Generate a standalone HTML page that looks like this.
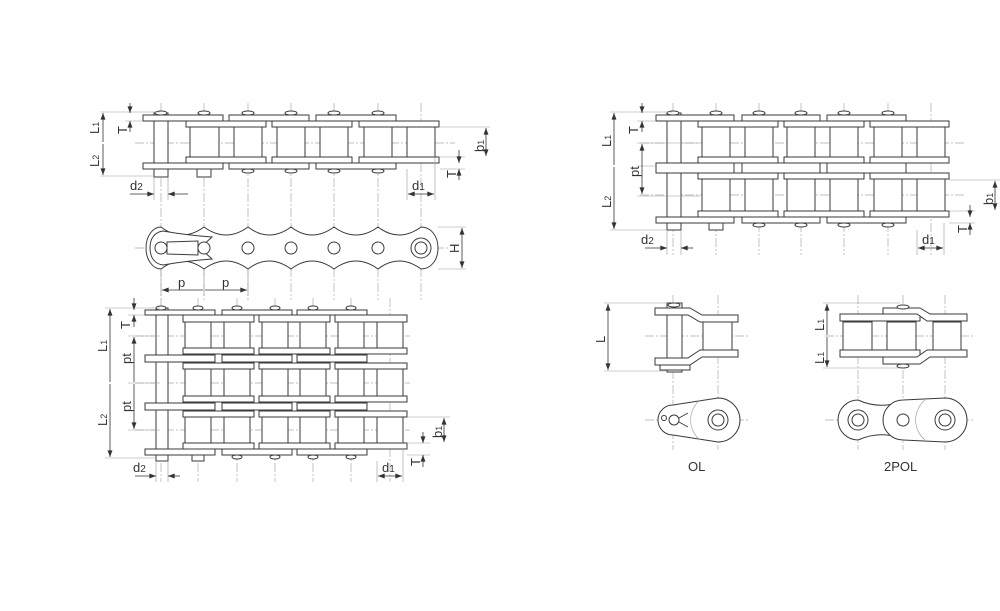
<!DOCTYPE html>
<html><head><meta charset="utf-8"><style>
html,body{margin:0;padding:0;background:#fff;width:1000px;height:611px;overflow:hidden}
svg{display:block}
.o{fill:#fff;stroke:#3a3a3a;stroke-width:1}
.c{stroke:#aaa;stroke-width:0.7;stroke-dasharray:9 2 2 2;fill:none}
.e{stroke:#999;stroke-width:0.6;fill:none}
.d{stroke:#333;stroke-width:0.8;fill:none;marker-start:url(#a);marker-end:url(#a)}
.dl{stroke:#333;stroke-width:0.8;fill:none}
text{font-family:"Liberation Sans",sans-serif;font-size:13px;fill:#333}
</style></head><body>
<svg width="1000" height="611" viewBox="0 0 1000 611" xmlns="http://www.w3.org/2000/svg">
<defs>
<marker id="a" viewBox="0 0 8 6" refX="8" refY="3" markerWidth="7" markerHeight="5" markerUnits="userSpaceOnUse" orient="auto-start-reverse"><path d="M0,0L8,3L0,6z" fill="#333"/></marker>
<marker id="b" viewBox="0 0 8 6" refX="8" refY="3" markerWidth="7" markerHeight="5" markerUnits="userSpaceOnUse" orient="auto"><path d="M0,0L8,3L0,6z" fill="#333"/></marker>
</defs>

<!-- ================= SIMPLEX ================= -->
<g class="c">
<path d="M161,103V300M204,103V300M248,103V300M291,103V300M334,103V300M378,103V300M421,103V300"/>
<path d="M135,143H455M135,248H450"/>
</g>
<g class="o">
<rect x="154" y="113" width="14" height="64"/>
<rect x="197" y="169" width="14" height="8"/>
<rect x="143" y="115" width="80" height="6"/><rect x="229" y="115" width="80" height="6"/><rect x="316" y="115" width="80" height="6"/>
<rect x="186" y="121" width="80" height="6"/><rect x="272" y="121" width="80" height="6"/><rect x="359" y="121" width="80" height="6"/>
<rect x="190" y="127" width="29" height="30"/><rect x="234" y="127" width="28" height="30"/><rect x="277" y="127" width="28" height="30"/><rect x="320" y="127" width="28" height="30"/><rect x="364" y="127" width="28" height="30"/><rect x="407" y="127" width="28" height="30"/>
<rect x="186" y="157" width="80" height="6"/><rect x="272" y="157" width="80" height="6"/><rect x="359" y="157" width="80" height="6"/>
<rect x="143" y="163" width="80" height="6"/><rect x="229" y="163" width="80" height="6"/><rect x="316" y="163" width="80" height="6"/>
<ellipse cx="161" cy="113" rx="6" ry="2"/><ellipse cx="204" cy="113" rx="6" ry="2"/><ellipse cx="248" cy="113" rx="6" ry="2"/><ellipse cx="291" cy="113" rx="6" ry="2"/><ellipse cx="334" cy="113" rx="6" ry="2"/><ellipse cx="378" cy="113" rx="6" ry="2"/>
<ellipse cx="248" cy="171" rx="6" ry="2"/><ellipse cx="291" cy="171" rx="6" ry="2"/><ellipse cx="334" cy="171" rx="6" ry="2"/><ellipse cx="378" cy="171" rx="6" ry="2"/>
</g>
<!-- side view -->
<path class="o" d="M146,248 C146,236 153,227 161,227 Q182,243 204,227 Q226,243 248,227 Q269,243 291,227 Q312,243 334,227 Q356,243 378,227 Q399,243 421,227 C431,227 438,236 438,248 C438,260 431,269 421,269 Q399,253 378,269 Q356,253 334,269 Q312,253 291,269 Q269,253 248,269 Q226,253 204,269 Q182,253 161,269 C153,269 146,260 146,248Z"/>
<path class="o" d="M150,248 C150,238 155,232 163,231 Q185,235 212,237 L200,248 L212,259 Q185,261 163,265 C155,264 150,258 150,248Z"/>
<path class="o" d="M167,242 L198,241 L198,255 L167,254Z"/>
<g class="o">
<circle cx="161" cy="248" r="6"/><circle cx="204" cy="248" r="6"/><circle cx="248" cy="248" r="6"/><circle cx="291" cy="248" r="6"/><circle cx="334" cy="248" r="6"/><circle cx="378" cy="248" r="6"/><circle cx="421" cy="248" r="10"/><circle cx="421" cy="248" r="6"/>
</g>
<!-- simplex dims -->
<g class="e"><path d="M100,112H160M100,176H154M125,121H143M440,127H490M440,157H465M440,169H465M407,169V200M435,157V200M154,177V200M168,177V200M438,227H466M438,269H466M161,270V296M204,270V296M248,270V296"/></g>
<path class="d" d="M103,113V142M103,144V175"/>
<path class="dl" d="M130,103V113" marker-end="url(#b)"/><path class="dl" d="M130,132V121" marker-end="url(#b)"/>
<path class="d" d="M486,128V156"/>
<path class="dl" d="M459,150V163" marker-end="url(#b)"/><path class="dl" d="M459,180V169" marker-end="url(#b)"/>
<path class="d" d="M408,194H434"/>
<path class="dl" d="M130,194H154" marker-end="url(#b)"/><path class="dl" d="M188,194H168" marker-end="url(#b)"/>
<path class="d" d="M462,228V268"/>
<path class="d" d="M162,290H203M205,290H247"/>
<text transform="translate(99,134) rotate(-90)">L<tspan font-size="9">1</tspan></text>
<text transform="translate(99,167) rotate(-90)">L<tspan font-size="9">2</tspan></text>
<text transform="translate(127,134) rotate(-90)">T</text>
<text transform="translate(484,152) rotate(-90)">b<tspan font-size="9">1</tspan></text>
<text transform="translate(456,178) rotate(-90)">T</text>
<text transform="translate(459,253) rotate(-90)">H</text>
<text x="130" y="190">d<tspan font-size="10">2</tspan></text>
<text x="412" y="190">d<tspan font-size="10">1</tspan></text>
<text x="178" y="287">p</text><text x="222" y="287">p</text>

<!-- ================= TRIPLEX ================= -->
<g class="c">
<path d="M161,298V482M198,298V482M237,298V482M275,298V482M313,298V482M351,298V482M390,298V482"/>
<path d="M135,336H410M135,383H410M135,430H410"/>
</g>
<g class="o">
<rect x="156" y="308" width="12" height="153"/>
<rect x="192" y="455" width="12" height="6"/>
<rect x="145" y="310" width="70" height="5"/><rect x="222" y="310" width="70" height="5"/><rect x="297" y="310" width="70" height="5"/>
<rect x="183" y="315" width="71" height="7"/><rect x="259" y="315" width="71" height="7"/><rect x="335" y="315" width="72" height="7"/>
<rect x="185" y="322" width="26" height="26"/><rect x="224" y="322" width="26" height="26"/><rect x="262" y="322" width="26" height="26"/><rect x="300" y="322" width="26" height="26"/><rect x="338" y="322" width="26" height="26"/><rect x="377" y="322" width="26" height="26"/>
<rect x="183" y="348" width="71" height="6"/><rect x="259" y="348" width="71" height="6"/><rect x="335" y="348" width="72" height="6"/>
<rect x="145" y="355" width="70" height="7"/><rect x="222" y="355" width="70" height="7"/><rect x="297" y="355" width="70" height="7"/>
<rect x="183" y="363" width="71" height="6"/><rect x="259" y="363" width="71" height="6"/><rect x="335" y="363" width="72" height="6"/>
<rect x="185" y="369" width="26" height="27"/><rect x="224" y="369" width="26" height="27"/><rect x="262" y="369" width="26" height="27"/><rect x="300" y="369" width="26" height="27"/><rect x="338" y="369" width="26" height="27"/><rect x="377" y="369" width="26" height="27"/>
<rect x="183" y="396" width="71" height="6"/><rect x="259" y="396" width="71" height="6"/><rect x="335" y="396" width="72" height="6"/>
<rect x="145" y="403" width="70" height="7"/><rect x="222" y="403" width="70" height="7"/><rect x="297" y="403" width="70" height="7"/>
<rect x="183" y="411" width="71" height="6"/><rect x="259" y="411" width="71" height="6"/><rect x="335" y="411" width="72" height="6"/>
<rect x="185" y="417" width="26" height="26"/><rect x="224" y="417" width="26" height="26"/><rect x="262" y="417" width="26" height="26"/><rect x="300" y="417" width="26" height="26"/><rect x="338" y="417" width="26" height="26"/><rect x="377" y="417" width="26" height="26"/>
<rect x="183" y="443" width="71" height="6"/><rect x="259" y="443" width="71" height="6"/><rect x="335" y="443" width="72" height="6"/>
<rect x="145" y="449" width="70" height="6"/><rect x="222" y="449" width="70" height="6"/><rect x="297" y="449" width="70" height="6"/>
<ellipse cx="161" cy="308" rx="5" ry="2"/><ellipse cx="198" cy="308" rx="5" ry="2"/><ellipse cx="237" cy="308" rx="5" ry="2"/><ellipse cx="275" cy="308" rx="5" ry="2"/><ellipse cx="313" cy="308" rx="5" ry="2"/><ellipse cx="351" cy="308" rx="5" ry="2"/>
<ellipse cx="237" cy="457" rx="5" ry="2"/><ellipse cx="275" cy="457" rx="5" ry="2"/><ellipse cx="313" cy="457" rx="5" ry="2"/><ellipse cx="351" cy="457" rx="5" ry="2"/>
</g>
<g class="e"><path d="M105,308H160M105,458H156M128,315H145M128,336H160M128,383H160M128,430H160M407,417H450M407,443H430M407,455H430M377,461V482M403,449V482M156,461V482M168,461V482"/></g>
<path class="d" d="M110,309V382M110,384V457"/>
<path class="dl" d="M134,298V310" marker-end="url(#b)"/><path class="dl" d="M134,327V315" marker-end="url(#b)"/>
<path class="d" d="M134,337V382M134,384V429"/>
<path class="d" d="M444,418V442"/>
<path class="dl" d="M423,432V443" marker-end="url(#b)"/><path class="dl" d="M423,467V455" marker-end="url(#b)"/>
<path class="d" d="M378,476H402"/>
<path class="dl" d="M135,476H156" marker-end="url(#b)"/><path class="dl" d="M180,476H168" marker-end="url(#b)"/>
<text transform="translate(107,352) rotate(-90)">L<tspan font-size="9">1</tspan></text>
<text transform="translate(107,426) rotate(-90)">L<tspan font-size="9">2</tspan></text>
<text transform="translate(130,329) rotate(-90)">T</text>
<text transform="translate(131,364) rotate(-90)">pt</text>
<text transform="translate(131,412) rotate(-90)">pt</text>
<text transform="translate(442,438) rotate(-90)">b<tspan font-size="9">1</tspan></text>
<text transform="translate(420,466) rotate(-90)">T</text>
<text x="133" y="472">d<tspan font-size="10">2</tspan></text>
<text x="382" y="472">d<tspan font-size="10">1</tspan></text>

<!-- ================= DUPLEX ================= -->
<g class="c">
<path d="M673,103V255M716,103V255M759,103V255M801,103V255M844,103V255M888,103V255M931,103V255"/>
<path d="M640,143H965M640,195H965"/>
</g>
<g class="o">
<rect x="667" y="113" width="14" height="117"/>
<rect x="709" y="223" width="14" height="7"/>
<rect x="656" y="115" width="78" height="6"/><rect x="742" y="115" width="78" height="6"/><rect x="827" y="115" width="79" height="6"/>
<rect x="698" y="121" width="80" height="6"/><rect x="784" y="121" width="80" height="6"/><rect x="870" y="121" width="79" height="6"/>
<rect x="702" y="127" width="28" height="30"/><rect x="745" y="127" width="28" height="30"/><rect x="787" y="127" width="28" height="30"/><rect x="830" y="127" width="28" height="30"/><rect x="874" y="127" width="28" height="30"/><rect x="917" y="127" width="28" height="30"/>
<rect x="698" y="157" width="80" height="6"/><rect x="784" y="157" width="80" height="6"/><rect x="870" y="157" width="79" height="6"/>
<rect x="656" y="163" width="78" height="10"/><rect x="742" y="163" width="78" height="10"/><rect x="827" y="163" width="79" height="10"/>
<rect x="698" y="173" width="80" height="6"/><rect x="784" y="173" width="80" height="6"/><rect x="870" y="173" width="79" height="6"/>
<rect x="702" y="179" width="28" height="32"/><rect x="745" y="179" width="28" height="32"/><rect x="787" y="179" width="28" height="32"/><rect x="830" y="179" width="28" height="32"/><rect x="874" y="179" width="28" height="32"/><rect x="917" y="179" width="28" height="32"/>
<rect x="698" y="211" width="80" height="6"/><rect x="784" y="211" width="80" height="6"/><rect x="870" y="211" width="79" height="6"/>
<rect x="656" y="217" width="78" height="6"/><rect x="742" y="217" width="78" height="6"/><rect x="827" y="217" width="79" height="6"/>
<ellipse cx="673" cy="113" rx="6" ry="2"/><ellipse cx="716" cy="113" rx="6" ry="2"/><ellipse cx="759" cy="113" rx="6" ry="2"/><ellipse cx="801" cy="113" rx="6" ry="2"/><ellipse cx="844" cy="113" rx="6" ry="2"/><ellipse cx="888" cy="113" rx="6" ry="2"/>
<ellipse cx="759" cy="225" rx="6" ry="2"/><ellipse cx="801" cy="225" rx="6" ry="2"/><ellipse cx="844" cy="225" rx="6" ry="2"/><ellipse cx="888" cy="225" rx="6" ry="2"/>
</g>
<g class="e"><path d="M610,112H672M610,230H667M637,121H656M637,166H656M637,143H700M637,196H700M949,180H1000M949,211H975M949,223H975M917,230V255M944,223V255M667,230V255M681,230V255"/></g>
<path class="d" d="M614,113V165M614,167V229"/>
<path class="dl" d="M642,103V113" marker-end="url(#b)"/><path class="dl" d="M642,132V121" marker-end="url(#b)"/>
<path class="d" d="M642,144V194"/>
<path class="d" d="M995,181V210"/>
<path class="dl" d="M970,205V217" marker-end="url(#b)"/><path class="dl" d="M970,235V223" marker-end="url(#b)"/>
<path class="d" d="M918,248H943"/>
<path class="dl" d="M645,248H667" marker-end="url(#b)"/><path class="dl" d="M693,248H681" marker-end="url(#b)"/>
<text transform="translate(611,147) rotate(-90)">L<tspan font-size="9">1</tspan></text>
<text transform="translate(611,208) rotate(-90)">L<tspan font-size="9">2</tspan></text>
<text transform="translate(638,134) rotate(-90)">T</text>
<text transform="translate(639,177) rotate(-90)">pt</text>
<text transform="translate(993,205) rotate(-90)">b<tspan font-size="9">1</tspan></text>
<text transform="translate(967,233) rotate(-90)">T</text>
<text x="641" y="244">d<tspan font-size="10">2</tspan></text>
<text x="922" y="244">d<tspan font-size="10">1</tspan></text>

<!-- ================= OL ================= -->
<g class="c"><path d="M673,295V450M718,295V450M645,336H748M645,420H748"/></g>
<g class="o">
<rect x="667" y="303" width="15" height="69"/>
<rect x="660" y="365" width="30" height="5"/>
<path d="M655,308H690L702,315H738V322H700L688,315H655Z"/>
<path d="M655,365H690L702,357H738V350H700L688,358H655Z"/>
<rect x="703" y="322" width="29" height="28"/>
<ellipse cx="674" cy="305" rx="6" ry="2"/>
</g>
<g class="e"><path d="M604,303H667M604,371H667"/></g>
<path class="d" d="M608,304V370"/>
<text transform="translate(605,343) rotate(-90)">L</text>
<path class="o" d="M673,405 L718,398 A22,22 0 0 1 718,442 L673,435 A15,15 0 0 1 673,405Z"/>
<path class="e" d="M700,400 A26,26 0 0 0 700,440"/>
<circle class="o" cx="718" cy="420" r="10"/><circle class="o" cx="718" cy="420" r="6"/>
<circle class="o" cx="674" cy="420" r="5"/>
<circle class="o" cx="664" cy="418" r="2.5"/>
<path class="dl" d="M679,418L688,413M679,422L688,427"/>
<text x="688" y="471" font-size="14">OL</text>

<!-- ================= 2POL ================= -->
<g class="c"><path d="M858,295V450M903,295V450M945,295V450M825,336H975M825,420H975"/></g>
<g class="o">
<rect x="840" y="314" width="80" height="7"/>
<path d="M883,308H920L930,314H967V321H927L917,314H883Z"/>
<rect x="840" y="350" width="80" height="7"/>
<path d="M883,364H920L930,357H967V350H927L917,357H883Z"/>
<rect x="843" y="322" width="29" height="28"/><rect x="887" y="322" width="29" height="28"/><rect x="933" y="322" width="28" height="28"/>
<ellipse cx="903" cy="307" rx="6" ry="2"/><ellipse cx="903" cy="366" rx="6" ry="2"/>
</g>
<g class="e"><path d="M823,303H900M823,368H900"/></g>
<path class="d" d="M827,304V335M827,337V367"/>
<text transform="translate(824,331) rotate(-90)">L<tspan font-size="9">1</tspan></text>
<text transform="translate(824,364) rotate(-90)">L<tspan font-size="9">1</tspan></text>
<path class="o" d="M858,400 Q880,410 903,401 L903,439 Q880,430 858,440 A20,20 0 0 1 858,400Z"/>
<path class="o" d="M903,400 L945,398 A22,22 0 0 1 945,442 L903,440 A20,20 0 0 1 903,400Z"/>
<path class="e" d="M925,400 A26,26 0 0 0 925,440"/>
<circle class="o" cx="858" cy="420" r="10"/><circle class="o" cx="858" cy="420" r="6"/>
<circle class="o" cx="945" cy="420" r="10"/><circle class="o" cx="945" cy="420" r="6"/>
<circle class="o" cx="903" cy="420" r="6"/>
<text x="884" y="471" font-size="14">2POL</text>
</svg>
</body></html>
